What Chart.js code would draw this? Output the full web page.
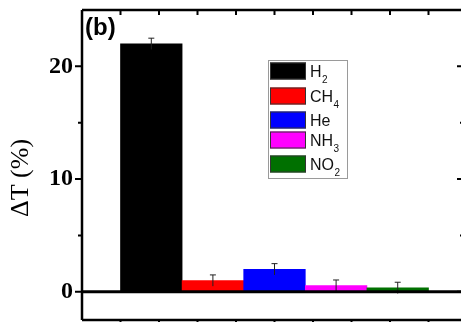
<!DOCTYPE html>
<html>
<head>
<meta charset="utf-8">
<script src="https://cdn.jsdelivr.net/npm/chart.js@4.4.1/dist/chart.umd.min.js"></script>
<style>
  html, body { margin: 0; padding: 0; background: #fff; overflow: hidden; }
  canvas { display: block; }
</style>
</head>
<body>
<canvas id="chart" width="470" height="322"></canvas>
<script>
const gases = ['H2', 'CH4', 'He', 'NH3', 'NO2'];
const deltaT = [22.0, 1.0, 2.0, 0.55, 0.35];
const deltaErr = [0.5, 0.5, 0.5, 0.5, 0.5];
const barColors = ['#000000', '#ff0000', '#0000ff', '#ff00ff', '#007000'];
const yTickLabels = [0, 10, 20];
const yMinorTicks = [5, 15];

const serif = '"Liberation Serif", "Times New Roman", serif';
const sans = '"Liberation Sans", Arial, sans-serif';

// text like "CH4" -> main "CH" + subscript "4"
const drawFormula = (ctx, text, x, y) => {
  let cx = x;
  for (const part of text.match(/[A-Za-z]+|\d+/g)) {
    const isSub = /\d/.test(part);
    ctx.font = isSub ? `10px ${sans}` : `16px ${sans}`;
    ctx.fillText(part, cx, isSub ? y + 6 : y);
    cx += ctx.measureText(part).width + (isSub ? 0 : 0.5);
  }
};

const framePlugin = {
  id: 'frame',
  afterDatasetsDraw(chart) {
    const { ctx, scales: { y } } = chart;
    const meta = chart.getDatasetMeta(0);

    ctx.save();
    ctx.strokeStyle = '#222';
    ctx.lineWidth = 1;
    meta.data.forEach((bar, i) => {
      const top = y.getPixelForValue(deltaT[i] + deltaErr[i]);
      const bottom = y.getPixelForValue(deltaT[i] - deltaErr[i]);
      ctx.beginPath();
      ctx.moveTo(bar.x, top);
      ctx.lineTo(bar.x, bottom);
      ctx.moveTo(bar.x - 3, top);
      ctx.lineTo(bar.x + 3, top);
      ctx.stroke();
    });
    ctx.restore();
  },
  afterDraw(chart) {
    const { ctx, chartArea: area, scales: { x, y } } = chart;

    ctx.save();
    ctx.strokeStyle = '#000';
    ctx.lineWidth = 2.5;
    ctx.beginPath();
    ctx.moveTo(area.left, area.top);
    ctx.lineTo(area.right, area.top);
    ctx.moveTo(area.left, area.bottom);
    ctx.lineTo(area.right, area.bottom);
    ctx.moveTo(area.left, area.top);
    ctx.lineTo(area.left, area.bottom);
    ctx.moveTo(area.right, area.top);
    ctx.lineTo(area.right, area.bottom);
    ctx.stroke();

    // zero line
    const y0 = y.getPixelForValue(0);
    ctx.lineWidth = 3;
    ctx.beginPath();
    ctx.moveTo(area.left, y0);
    ctx.lineTo(area.right, y0);
    ctx.stroke();

    // y ticks: outward on the left, inward on the right
    ctx.lineWidth = 2;
    ctx.beginPath();
    yTickLabels.forEach((v) => {
      const py = y.getPixelForValue(v);
      ctx.moveTo(area.left - 7, py);
      ctx.lineTo(area.left, py);
      ctx.moveTo(area.right, py);
      ctx.lineTo(area.right - 6, py);
    });
    yMinorTicks.forEach((v) => {
      const py = y.getPixelForValue(v);
      ctx.moveTo(area.left - 4, py);
      ctx.lineTo(area.left, py);
      ctx.moveTo(area.right, py);
      ctx.lineTo(area.right - 3, py);
    });
    // top ticks, one every 0.625 bar widths
    for (let k = 0; k <= 8; k++) {
      const px = x.getPixelForValue(-0.5 + k * 0.625);
      ctx.moveTo(px, area.top);
      ctx.lineTo(px, area.top + 5);
      ctx.moveTo(px, area.bottom);
      ctx.lineTo(px, area.bottom + 4);
    }
    ctx.stroke();

    // y title
    ctx.fillStyle = '#000';
    ctx.save();
    ctx.translate(21, 178);
    ctx.rotate(-Math.PI / 2);
    ctx.font = `26px ${serif}`;
    ctx.textAlign = 'center';
    ctx.textBaseline = 'middle';
    ctx.fillText('\u0394T (%)', 0, 0);
    ctx.restore();

    // panel tag
    ctx.font = `bold 24px ${sans}`;
    ctx.textBaseline = 'alphabetic';
    ctx.fillText('(b)', 85, 35);

    // legend
    ctx.fillStyle = '#fff';
    ctx.fillRect(268, 60, 79, 118);
    ctx.strokeStyle = '#9a9a9a';
    ctx.lineWidth = 1;
    ctx.strokeRect(268.5, 60.5, 79, 118);
    const rows = [71, 96, 120, 140, 164];
    gases.forEach((g, i) => {
      ctx.fillStyle = barColors[i];
      ctx.fillRect(270, rows[i] - 8.5, 36, 17);
      ctx.strokeStyle = '#333';
      ctx.strokeRect(270.5, rows[i] - 8, 35, 16);
      ctx.fillStyle = '#111';
      drawFormula(ctx, g, 310, rows[i] + 6);
    });
    ctx.restore();
  },
};

new Chart(document.getElementById('chart'), {
  type: 'bar',
  data: {
    datasets: [{
      data: gases.map((g, i) => ({ x: i, y: deltaT[i] })),
      backgroundColor: barColors,
      borderWidth: 0,
      barPercentage: 1,
      categoryPercentage: 1,
    }],
  },
  options: {
    responsive: false,
    animation: false,
    events: [],
    layout: { padding: { top: 10, right: 7, bottom: 2, left: 0 } },
    plugins: { legend: { display: false }, tooltip: { enabled: false } },
    scales: {
      x: { type: 'linear', display: false, offset: false, min: -1.125, max: 5.06 },
      y: {
        min: -2.5,
        max: 25,
        grid: { display: false, drawTicks: false },
        border: { display: false },
        ticks: {
          stepSize: 5,
          padding: 9,
          color: '#000',
          font: { family: serif, size: 24, weight: 'bold' },
          callback: (v) => (yTickLabels.includes(v) ? String(v) : ''),
        },
        afterFit: (scale) => {
          scale.width = 82;
          scale.paddingTop = 0;
          scale.paddingBottom = 0;
        },
      },
    },
  },
  plugins: [framePlugin],
});
</script>
</body>
</html>
